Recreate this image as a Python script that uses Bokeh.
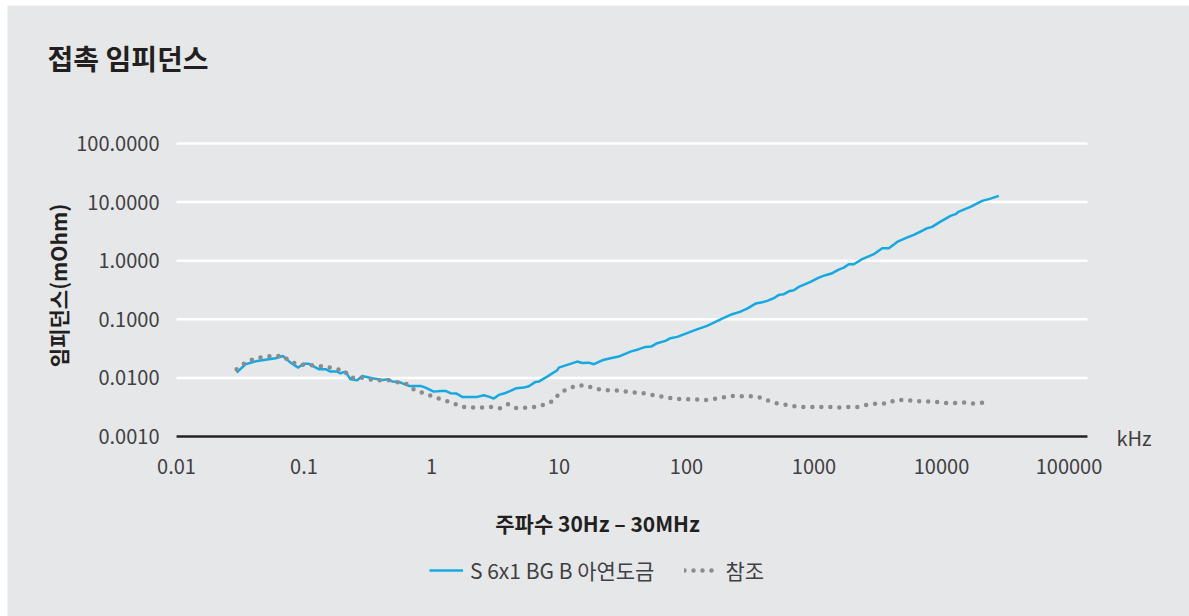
import math
from bokeh.plotting import figure
from bokeh.models import Label, Legend, LegendItem, Range1d
from bokeh.core.properties import value
from bokeh.embed import file_html
from bokeh.resources import INLINE

# ---------------- data ----------------
title_text = "접촉 임피던스"
x_title = "주파수 30Hz – 30MHz"
y_title = "임피던스(mOhm)"
x_unit = "kHz"
series_names = ["S 6x1 BG B 아연도금", "참조"]

x_ticks = [0.01, 0.1, 1, 10, 100, 1000, 10000, 100000]
x_tick_labels = ["0.01", "0.1", "1", "10", "100", "1000", "10000", "100000"]
y_ticks = [0.001, 0.01, 0.1, 1, 10, 100]
y_tick_labels = ["0.0010", "0.0100", "0.1000", "1.0000", "10.0000", "100.0000"]

# frequency (kHz) / impedance (mOhm) – zinc plated sample
blue_f = [0.0296, 0.0348, 0.0430, 0.0530, 0.0598, 0.0682, 0.0784, 0.0901, 0.0996, 0.108,
          0.1306, 0.1475, 0.1614, 0.182, 0.193, 0.2115, 0.2316, 0.2614, 0.286, 0.343,
          0.410, 0.4625, 0.492, 0.554, 0.664, 0.820, 0.897, 1.042, 1.177, 1.288,
          1.409, 1.571, 1.741, 2.282, 2.572, 2.814, 3.081, 3.373, 3.690, 4.165,
          4.64, 5.30, 5.80, 6.54, 6.94, 8.08, 9.68, 9.97, 11.6, 13.9,
          15.2, 17.1, 18.8, 21.8, 25.3, 29.4, 36.4, 42.3, 47.7, 52.8,
          58.9, 68.4, 74.9, 84.6, 101, 117.7, 145, 164, 190.5, 228,
          262, 299, 348, 393, 430, 484, 530, 580, 646, 695,
          760, 939, 1091, 1231, 1389, 1565, 1713, 1875, 2052, 2388,
          2944, 3428, 3862, 4493, 5224, 6069, 6843, 7727, 8455, 9526,
          11770, 12880, 13680, 16880, 20850, 24230, 28140]
blue_z = [0.0123, 0.0171, 0.0195, 0.0208, 0.0217, 0.0237, 0.0182, 0.0150, 0.0175, 0.0175,
          0.0141, 0.0141, 0.0128, 0.0128, 0.0120, 0.0128, 0.0095, 0.00914, 0.0108, 0.0099,
          0.00925, 0.0095, 0.00865, 0.00855, 0.0073, 0.0073, 0.00683, 0.00583, 0.0060, 0.0060,
          0.00548, 0.0054, 0.00474, 0.00474, 0.00507, 0.0048, 0.00444, 0.00513, 0.0054, 0.0060,
          0.00667, 0.00683, 0.00722, 0.00855, 0.00865, 0.0105, 0.0135, 0.0150, 0.0167, 0.0190,
          0.0180, 0.0182, 0.0171, 0.0200, 0.0217, 0.0231, 0.0281, 0.0309, 0.0338, 0.0342,
          0.0391, 0.0428, 0.0476, 0.0501, 0.0580, 0.0659, 0.0772, 0.0878, 0.1028, 0.1222,
          0.1337, 0.1523, 0.1854, 0.196, 0.206, 0.229, 0.261, 0.268, 0.305, 0.314,
          0.357, 0.435, 0.515, 0.566, 0.612, 0.705, 0.762, 0.871, 0.871, 1.061,
          1.291, 1.634, 1.634, 2.094, 2.42, 2.755, 3.138, 3.586, 3.774, 4.467,
          5.81, 6.22, 6.89, 8.28, 10.48, 11.47, 12.76]

# reference
ref_f = [0.0296, 0.0348, 0.0402, 0.0481, 0.0573, 0.068, 0.0784, 0.0905, 0.106, 0.127,
         0.152, 0.1766, 0.205, 0.2316, 0.277, 0.322, 0.386, 0.4625, 0.554, 0.645,
         0.749, 0.886, 1.042, 1.249, 1.454, 1.710, 2.022, 2.423, 2.866, 3.434,
         3.966, 4.64, 5.56, 6.66, 7.84, 9.22, 9.97, 11.6, 13.8, 16.3,
         19.4, 23.2, 27.7, 33.2, 39.4, 46.8, 56.1, 66.8, 79.5, 95.2,
         113.5, 135.2, 160.8, 191.5, 228, 271.5, 323.5, 385.3, 442, 525,
         634, 756, 902, 1077, 1285, 1534, 1832, 2186, 2610, 3114,
         3718, 4349, 5193, 6197, 7398, 8817, 10540, 12560, 14990, 18020,
         21500]
ref_z = [0.0141, 0.0182, 0.0211, 0.0228, 0.0237, 0.0237, 0.0190, 0.0167, 0.0167, 0.0160,
         0.0154, 0.0141, 0.0135, 0.0100, 0.0102, 0.0095, 0.00914, 0.00914, 0.00832, 0.00781,
         0.0060, 0.00548, 0.00474, 0.00416, 0.00379, 0.0032, 0.00311, 0.00311, 0.0032, 0.00304,
         0.00356, 0.00304, 0.00311, 0.0032, 0.00356, 0.00416, 0.0054, 0.00641, 0.00742, 0.00742,
         0.00649, 0.00616, 0.0061, 0.00589, 0.00561, 0.00544, 0.00503, 0.00474, 0.00444, 0.00433,
         0.00433, 0.00416, 0.00433, 0.00461, 0.00493, 0.00487, 0.00487, 0.00461, 0.00405, 0.00364,
         0.00342, 0.0032, 0.0032, 0.0032, 0.0032, 0.00311, 0.0032, 0.0032, 0.00346, 0.00364,
         0.00364, 0.00421, 0.00421, 0.00405, 0.00394, 0.00394, 0.00374, 0.00374, 0.00379, 0.00364,
         0.00379]

# ---------------- layout / styling ----------------
BG = "#e6e7e9"
FONT = "Noto Sans CJK KR"
TXT = "#231f20"
TICK_TXT = "#404042"
BLUE = "#16a8e1"
GREY = "#8b8b8d"

OFF_X, OFF_Y = 7, 5               # grey panel offset on the page
CW, CH = 1189 - OFF_X, 616 - OFF_Y  # canvas size
X1_PX, XDEC = 424, 127.5          # canvas px of 1 kHz, px per decade
Y0_PX, YDEC = 431, 58.6           # canvas px of 0.001 mOhm, px per decade
GRID_RIGHT_PX = 1080              # right end of grid / axis line


def xdata(px):
    return 10 ** ((px - X1_PX) / XDEC)


def ydata(py):
    return 10 ** (math.log10(y_ticks[0]) + (Y0_PX - py) / YDEC)


p = figure(width=CW, height=CH, x_axis_type="log", y_axis_type="log",
           x_range=Range1d(xdata(0), xdata(CW)), y_range=Range1d(ydata(CH), ydata(0)),
           x_axis_location=None, y_axis_location=None,
           output_backend="svg", toolbar_location=None,
           background_fill_color=BG, border_fill_color=BG, outline_line_color=None,
           min_border=0, styles={"margin-left": f"{OFF_X}px", "margin-top": f"{OFF_Y}px"})
p.grid.visible = False

x_left, x_right = x_ticks[0], xdata(GRID_RIGHT_PX)

# gridlines and x axis line
p.segment(x0=[x_left] * len(y_ticks), x1=[x_right] * len(y_ticks), y0=y_ticks, y1=y_ticks,
          line_color="white", line_width=2.5)
p.segment(x0=[x_left], x1=[x_right], y0=[y_ticks[0]], y1=[y_ticks[0]],
          line_color=TXT, line_width=2.5)

# tick labels
p.text(x=[x_left] * len(y_ticks), y=y_ticks, text=y_tick_labels, x_offset=-17,
       text_align="right", text_baseline="middle", text_font=value(FONT),
       text_font_size="20px", text_color=TICK_TXT)
p.text(x=x_ticks, y=[y_ticks[0]] * len(x_ticks), text=x_tick_labels, y_offset=30,
       text_align="center", text_baseline="middle", text_font=value(FONT),
       text_font_size="20px", text_color=TICK_TXT)

# data
r_blue = p.line(blue_f, blue_z, line_color=BLUE, line_width=2.5, line_join="round")
r_ref = p.line(ref_f, ref_z, line_color=GREY, line_width=4.5, line_dash="0 9", line_cap="round")

# texts (screen units from bottom-left of canvas)
p.add_layout(Label(x=40, y=CH - 52, text=title_text,
                   text_font=FONT, text_font_size="28px", text_font_style="bold",
                   text_color=TXT, text_baseline="middle", text_align="left",
                   x_units="screen", y_units="screen"))
p.add_layout(Label(x=50, y=CH - 280, text=y_title, angle=math.pi / 2,
                   text_font=FONT, text_font_size="21px", text_font_style="bold",
                   text_color=TXT, text_baseline="middle", text_align="center",
                   x_units="screen", y_units="screen"))
p.add_layout(Label(x=590, y=CH - 517, text=x_title,
                   text_font=FONT, text_font_size="21px", text_font_style="bold",
                   text_color=TXT, text_baseline="middle", text_align="center",
                   x_units="screen", y_units="screen"))
p.add_layout(Label(x=1109, y=CH - 432, text=x_unit,
                   text_font=FONT, text_font_size="20px",
                   text_color=TICK_TXT, text_baseline="middle", text_align="left",
                   x_units="screen", y_units="screen"))

legend = Legend(items=[LegendItem(label=series_names[0], renderers=[r_blue]),
                       LegendItem(label=series_names[1], renderers=[r_ref])],
                orientation="horizontal", location=(422, CH - 580),
                background_fill_alpha=0, border_line_color=None,
                padding=0, margin=0, spacing=30, label_standoff=7,
                glyph_width=34, glyph_height=20, label_height=20,
                label_text_font=FONT, label_text_font_size="21px", label_text_color=TICK_TXT)
p.add_layout(legend, "center")

open("out.html", "w").write(file_html(p, INLINE))
